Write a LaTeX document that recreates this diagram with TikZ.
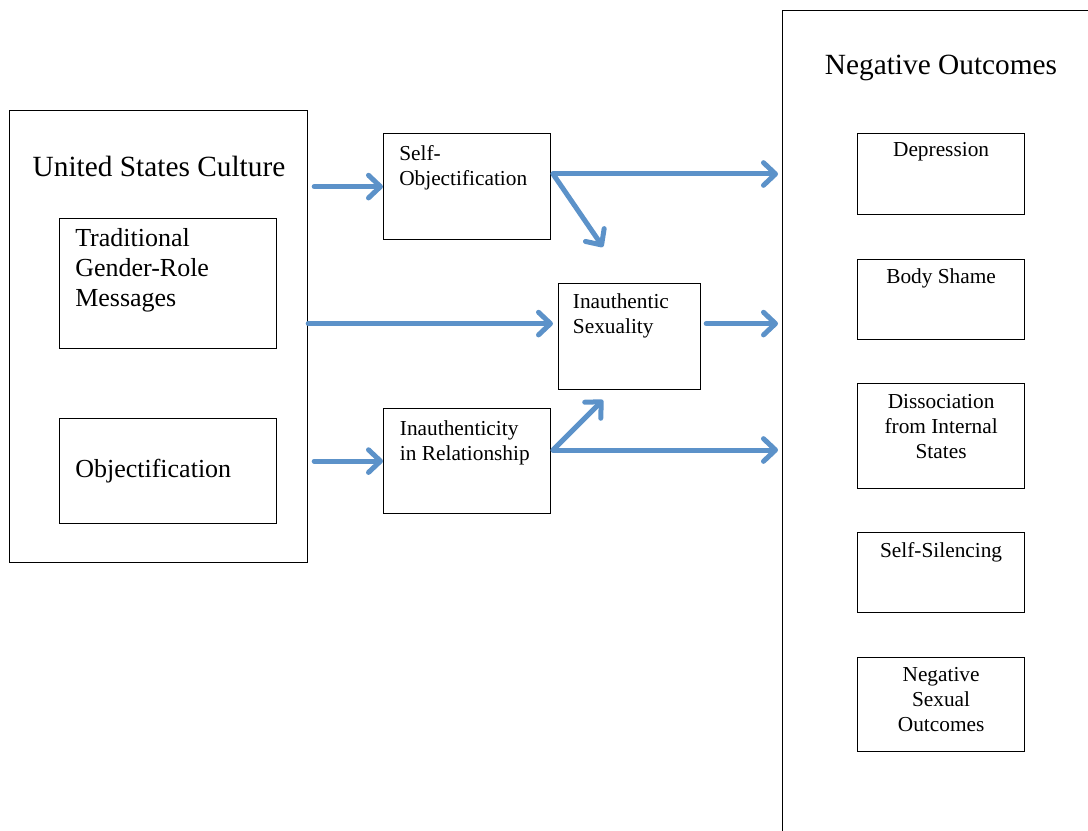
\documentclass[tikz,border=0pt]{standalone}
\usepackage{fontspec}
\setmainfont{Liberation Serif}
\usetikzlibrary{arrows.meta}
\definecolor{flowblue}{RGB}{92,146,201}
\tikzset{
  box/.style={draw=black, line width=0.9pt, inner sep=0pt, anchor=north west},
  flow/.style={draw=flowblue, line width=3.75pt, line cap=round,
    -{Straight Barb[length=9pt,width=17pt,round]}},
  big/.style={font=\fontsize{22}{26}\selectfont, anchor=base},
  mid/.style={font=\fontsize{19.5}{22.5}\selectfont, align=left, inner sep=0pt},
  small/.style={font=\fontsize{16}{18.75}\selectfont, align=left, inner sep=0pt},
}

\begin{document}
\begin{tikzpicture}[x=0.75pt,y=-0.75pt]
\useasboundingbox (0,0) rectangle (1088,831);
% culture
\node[box, minimum width=223.5pt, minimum height=339pt] (usc) at (9,110) {};
\node[big] (usc-t) at (159,176) {United States Culture};
\node[box, minimum width=162.75pt, minimum height=97.5pt] (tgr) at (59,218) {};
\node[mid, anchor=north west] (tgr-t) at ([xshift=12pt,yshift=-7.5pt]tgr.north west)
  {Traditional\\Gender-Role\\Messages};
\node[box, minimum width=162.75pt, minimum height=78.75pt] (obj) at (59,418) {};
\node[mid, anchor=west] (obj-t) at ([xshift=12pt]obj.west) {Objectification};
% middle
\node[box, minimum width=125.25pt, minimum height=79.5pt] (selfobj) at (383,133) {};
\node[small, anchor=north west] (selfobj-t) at ([xshift=12pt,yshift=-9pt]selfobj.north west)
  {Self-\\Objectification};
\node[box, minimum width=106.5pt, minimum height=79.5pt] (inauthsex) at (558,283) {};
\node[small, anchor=north west] (inauthsex-t) at ([xshift=11pt,yshift=-7.5pt]inauthsex.north west)
  {Inauthentic\\Sexuality};
\node[box, minimum width=125.25pt, minimum height=78.75pt] (inauthrel) at (383,408) {};
\node[small, anchor=north west] (inauthrel-t) at ([xshift=12.5pt,yshift=-9pt]inauthrel.north west)
  {Inauthenticity\\in Relationship};
% outcomes
\node[box, minimum width=238.5pt, minimum height=630pt] (negout) at (782,10) {};
\node[big] (negout-t) at (941,75) {Negative Outcomes};
\node[box, minimum width=125.25pt, minimum height=60.75pt] (dep) at (857,133) {};
\node[small, anchor=north, align=center] (dep-t) at ([yshift=-7pt]dep.north) {Depression};
\node[box, minimum width=125.25pt, minimum height=60pt] (shame) at (857,259) {};
\node[small, anchor=north, align=center] (shame-t) at ([yshift=-7pt]shame.north) {Body Shame};
\node[box, minimum width=125.25pt, minimum height=78.75pt] (dissoc) at (857,383) {};
\node[small, anchor=north, align=center] (dissoc-t) at ([yshift=-8.5pt]dissoc.north)
  {Dissociation\\from Internal\\States};
\node[box, minimum width=125.25pt, minimum height=60pt] (silence) at (857,532) {};
\node[small, anchor=north, align=center] (silence-t) at ([yshift=-8pt]silence.north) {Self-Silencing};
\node[box, minimum width=125.25pt, minimum height=70.5pt] (negsex) at (857,657) {};
\node[small, anchor=north, align=center] (negsex-t) at ([yshift=-7.5pt]negsex.north)
  {Negative\\Sexual\\Outcomes};
% arrows
\coordinate (split1) at (553,174);
\coordinate (split2) at (553,450);
\coordinate (objtip) at (603,247);
\coordinate (reltip) at (603,400);
\draw[flow, shorten <=4.5pt] (usc.east |- selfobj.west) -- (selfobj.west);
\draw[flow, shorten >=3.75pt] ([yshift=9.75pt]inauthsex.west -| usc.east) -- ([yshift=9.75pt]inauthsex.west);
\draw[flow, shorten <=4.5pt] (usc.east |- inauthrel.west) -- (inauthrel.west);
\draw[flow, shorten >=3pt] (split1) -- (split1 -| negout.west);
\draw[flow] (split1) -- (objtip);
\draw[flow, shorten <=3.75pt, shorten >=3pt] ([yshift=9.75pt]inauthsex.east) -- ([yshift=9.75pt]inauthsex.east -| negout.west);
\draw[flow, shorten >=3pt] (split2) -- (split2 -| negout.west);
\draw[flow] (split2) -- (reltip);
\end{tikzpicture}
\end{document}
